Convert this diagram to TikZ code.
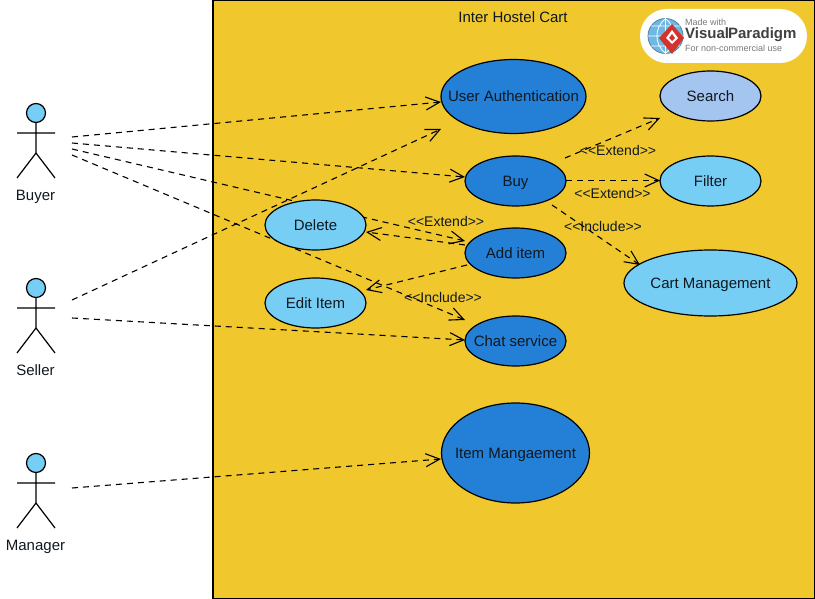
\documentclass[tikz,border=0pt]{standalone}
\usepackage{fontspec}
\setmainfont{Liberation Sans}
\usetikzlibrary{shapes.geometric,arrows.meta}
\definecolor{sysyellow}{HTML}{F0C82E}
\definecolor{ucdark}{HTML}{2480D6}
\definecolor{uclight}{HTML}{77CEF5}
\definecolor{ucpale}{HTML}{A3C5F0}
\definecolor{inktext}{HTML}{101820}
\definecolor{vpred}{HTML}{D0342C}
\definecolor{vpgrey}{HTML}{7A7A7A}
\definecolor{vpglobe}{HTML}{6DB9E4}
\newcommand{\uct}[1]{\makebox[0pt][c]{#1}}
\newcommand{\opn}{{<}{<}}
\newcommand{\cls}{{>}{>}}
\tikzset{
  x=1pt,y=-1pt,
  txt/.style={font=\fontsize{15}{18}\selectfont,text=inktext,text height=14pt,text depth=3pt},
  uc/.style={ellipse,draw=black,line width=1.2pt,inner sep=0pt,txt},
  ucd/.style={uc,fill=ucdark},
  ucl/.style={uc,fill=uclight},
  ucsmall/.style={minimum width=101pt,minimum height=50pt},
  dep/.style={draw=black,line width=1.1pt,dash pattern=on 6pt off 5pt,-{Straight Barb[length=14pt,width=13pt,line width=1.1pt]}},
  tag/.style={font=\fontsize{14}{17}\selectfont,text=inktext,text height=10pt,text depth=3pt,inner sep=0pt},
  limb/.style={draw=black,line width=1.2pt},
  head/.style={circle,draw=black,line width=1.2pt,fill=uclight,minimum size=19pt,inner sep=0pt}
}
\begin{document}
\begin{tikzpicture}
\useasboundingbox (0,0) rectangle (815,599);
\fill[white] (0,0) rectangle (815,599);
\draw[black,line width=1.1pt,fill=sysyellow] (213,0.5) rectangle (814.5,598.5);
\node[txt] (title) at (513,17) {Inter Hostel Cart};

% free connector ends
\coordinate (bo1) at (72,137);
\coordinate (bo2) at (72,143);
\coordinate (bo3) at (72,149);
\coordinate (bo4) at (72,155);
\coordinate (so1) at (72,300);
\coordinate (so2) at (72,318);
\coordinate (mo1) at (72,488);
\coordinate (authlow) at (441,129);
\coordinate (addin) at (465,241);
\coordinate (chatin) at (465,320);
\coordinate (searchin) at (660,118);
\coordinate (buyout) at (565,158);
\coordinate (buyout2) at (552,205);
\coordinate (editin) at (366,290);
\coordinate (addout) at (467,265);
\coordinate (addout2) at (465,245);
\coordinate (delin) at (366,232);
\coordinate (cartin) at (640,265);
\coordinate (authin) at (441,102);
\coordinate (buyin) at (465,177);
\coordinate (chatin2) at (465,340);
\coordinate (itemin) at (441,459);
\coordinate (filterin) at (660,180.5);
\coordinate (buyout3) at (566,180.5);

% connectors behind the use cases
\draw[dep] (bo1) -- (authin);
\draw[dep] (bo2) -- (buyin);
\draw[dep] (bo3) -- (addin);
\draw[dep] (bo4) -- (chatin);
\draw[dep] (so1) -- (authlow);
\draw[dep] (so2) -- (chatin2);
\draw[dep] (mo1) -- (itemin);
\draw[dep] (buyout) -- (searchin);
\draw[dep] (buyout3) -- (filterin);
\draw[dep] (buyout2) -- (cartin);
\draw[dep] (addout2) -- (delin);
\draw[dep] (addout) -- (editin);

% use cases
\node[ucd,minimum width=145pt,minimum height=74pt] (auth) at (513.5,96.5) {\uct{User Authentication}};
\node[uc,fill=ucpale,ucsmall] (search) at (710.5,96) {\uct{Search}};
\node[ucd,ucsmall] (buy) at (515.5,181) {\uct{Buy}};
\node[ucl,ucsmall] (filter) at (710.5,181) {\uct{Filter}};
\node[ucl,ucsmall] (delete) at (315.5,225) {\uct{Delete}};
\node[ucd,ucsmall] (additem) at (515.5,253) {\uct{Add item}};
\node[ucl,ucsmall] (edititem) at (315.5,303) {\uct{Edit Item}};
\node[ucd,ucsmall] (chat) at (515.5,341) {\uct{Chat service}};
\node[ucl,minimum width=173pt,minimum height=66pt] (cart) at (710.5,283) {\uct{Cart Management}};
\node[ucd,minimum width=148pt,minimum height=100pt] (itemm) at (515.5,453) {\uct{Item Mangaement}};

% labels
\node[tag] (l1) at (618,152) {\opn Extend\cls};
\node[tag] (l2) at (612.5,195) {\opn Extend\cls};
\node[tag] (l3) at (603,228) {\opn Include\cls};
\node[tag] (l4) at (446,223) {\opn Extend\cls};
\node[tag] (l5) at (443,299) {\opn Include\cls};

% actors
\node[head] (h1) at (36,113) {};
\draw[limb] (h1.south) -- (36,153) (17,133) -- (55,133) (17,178) -- (36,153) -- (55,178);
\node[txt] (n1) at (35.5,195) {Buyer};
\node[head] (h2) at (36,288) {};
\draw[limb] (h2.south) -- (36,328) (17,308) -- (55,308) (17,353) -- (36,328) -- (55,353);
\node[txt] (n2) at (35.5,370) {Seller};
\node[head] (h3) at (36,463) {};
\draw[limb] (h3.south) -- (36,503) (17,483) -- (55,483) (17,528) -- (36,503) -- (55,528);
\node[txt] (n3) at (35.5,545) {Manager};

% badge
\fill[white,rounded corners=26.9pt] (640,9) rectangle (807,63);
\draw[vpglobe!70!black,line width=0.8pt,fill=vpglobe] (665.5,36) circle[radius=17.5];
\draw[white,line width=0.8pt] (665.5,18.5) .. controls (654,28) and (654,44) .. (665.5,53.5) (665.5,18.5) .. controls (677,28) and (677,44) .. (665.5,53.5) (665.5,18.5) -- (665.5,53.5) (648,36) -- (683,36) (651,26) -- (680,26) (651,46) -- (680,46);
\fill[vpred] (672,24) -- (684,38) -- (672,54) -- (659,38) -- cycle;
\fill[white] (672,30) -- (678,38) -- (672,44) -- (666,38) -- cycle;
\fill[vpred] (672,34) -- (675,38) -- (672,41) -- (669,38) -- cycle;
\node[anchor=west,inner sep=0pt,font=\fontsize{9}{10}\selectfont,text=vpgrey] (vp1) at (685,22) {Made with};
\node[anchor=west,inner sep=0pt,font=\bfseries\fontsize{15}{17}\selectfont,text=black!75] (vp2) at (685,35) {Visual\kern-1pt Paradigm};
\node[anchor=west,inner sep=0pt,font=\fontsize{9}{10}\selectfont,text=vpgrey] (vp3) at (685,48) {For non-commercial use};
\end{tikzpicture}
\end{document}
